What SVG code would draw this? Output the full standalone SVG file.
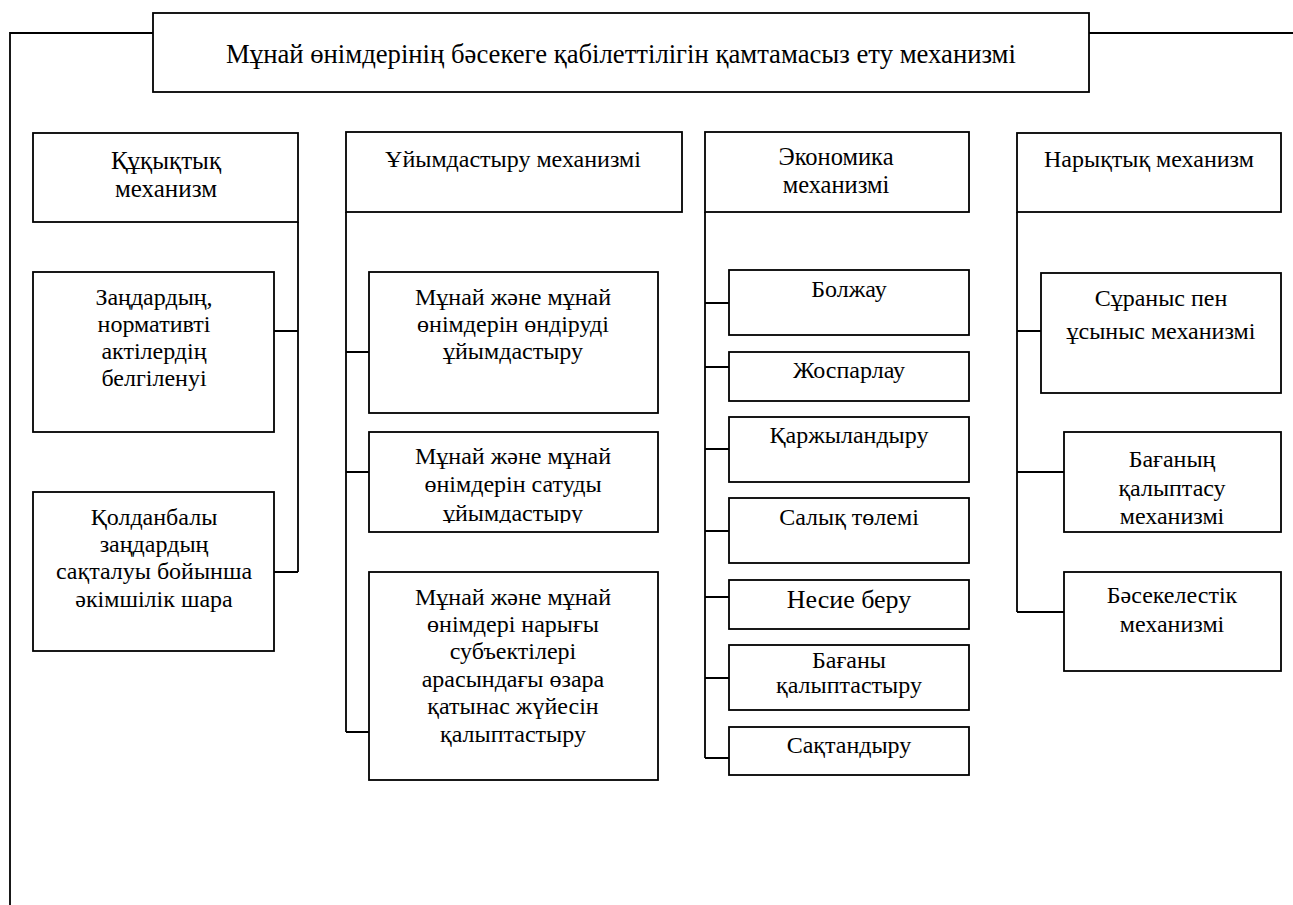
<svg xmlns="http://www.w3.org/2000/svg" width="1293" height="905" viewBox="0 0 1293 905">
<style>
.b{fill:#fff;stroke:#000;stroke-width:1.8}
.l{fill:none;stroke:#000;stroke-width:1.8}
text{font-family:"Liberation Serif","Times New Roman",serif;font-size:24px;fill:#000;text-anchor:middle}
.t{font-size:26.7px}
</style>
<defs>
<clipPath id="clipc2b"><rect x="369" y="432" width="289" height="91"/></clipPath>
</defs>
<rect width="1293" height="905" fill="#fff"/>
<g id="connectors">
<path class="l" d="M153 33H10V905M1089 33H1293"/>
<path class="l" d="M298 222V572M274 331H298M274 572H298"/>
<path class="l" d="M346 212V732M346 352H369M346 472H369M346 732H369"/>
<path class="l" d="M705 212V758M705 303H729M705 367H729M705 449H729M705 531H729M705 597H729M705 678H729M705 758H729"/>
<path class="l" d="M1017 212V612M1017 331H1041M1017 472H1064M1017 612H1064"/>
</g>
<g id="title"><rect class="b" x="153" y="13" width="936" height="79"/><text class="t" x="621" y="63">Мұнай өнімдерінің бәсекеге қабілеттілігін қамтамасыз ету механизмі</text></g>
<g id="h1"><rect class="b" x="33" y="133" width="265" height="89"/><text x="166" y="169" style="font-size:25px">Құқықтық</text><text x="166" y="197" style="font-size:25px">механизм</text></g>
<g id="h2"><rect class="b" x="346" y="132" width="336" height="80"/><text x="513" y="167">Ұйымдастыру механизмі</text></g>
<g id="h3"><rect class="b" x="705" y="132" width="264" height="80"/><text x="836" y="165" style="font-size:24.5px">Экономика</text><text x="836" y="193" style="font-size:24.5px">механизмі</text></g>
<g id="h4"><rect class="b" x="1017" y="133" width="264" height="79"/><text x="1149" y="167">Нарықтық механизм</text></g>
<g id="c1a"><rect class="b" x="33" y="272" width="241" height="160"/><text x="154" y="305">Заңдардың,</text><text x="154" y="332">нормативті</text><text x="154" y="359">актілердің</text><text x="154" y="386">белгіленуі</text></g>
<g id="c1b"><rect class="b" x="33" y="492" width="241" height="159"/><text x="154" y="525">Қолданбалы</text><text x="154" y="552">заңдардың</text><text x="154" y="579">сақталуы бойынша</text><text x="154" y="607">әкімшілік шара</text></g>
<g id="c2a"><rect class="b" x="369" y="272" width="289" height="141"/><text x="513" y="305">Мұнай және мұнай</text><text x="513" y="332">өнімдерін өндіруді</text><text x="513" y="359">ұйымдастыру</text></g>
<g id="c2b"><rect class="b" x="369" y="432" width="289" height="100"/><g clip-path="url(#clipc2b)"><text x="513" y="464">Мұнай және мұнай</text><text x="513" y="492">өнімдерін сатуды</text><text x="513" y="521">ұйымдастыру</text></g></g>
<g id="c2c"><rect class="b" x="369" y="572" width="289" height="208"/><text x="513" y="605">Мұнай және мұнай</text><text x="513" y="632">өнімдері нарығы</text><text x="513" y="659">субъектілері</text><text x="513" y="687">арасындағы өзара</text><text x="513" y="714">қатынас жүйесін</text><text x="513" y="742">қалыптастыру</text></g>
<g id="c3a"><rect class="b" x="729" y="270" width="240" height="65"/><text x="849" y="297">Болжау</text></g>
<g id="c3b"><rect class="b" x="729" y="352" width="240" height="49"/><text x="849" y="378">Жоспарлау</text></g>
<g id="c3c"><rect class="b" x="729" y="417" width="240" height="65"/><text x="849" y="443">Қаржыландыру</text></g>
<g id="c3d"><rect class="b" x="729" y="498" width="240" height="65"/><text x="849" y="525">Салық төлемі</text></g>
<g id="c3e"><rect class="b" x="729" y="580" width="240" height="49"/><text x="849" y="608" style="font-size:26px">Несие беру</text></g>
<g id="c3f"><rect class="b" x="729" y="645" width="240" height="65"/><text x="849" y="668">Бағаны</text><text x="849" y="693">қалыптастыру</text></g>
<g id="c3g"><rect class="b" x="729" y="727" width="240" height="48"/><text x="849" y="753">Сақтандыру</text></g>
<g id="c4a"><rect class="b" x="1041" y="273" width="240" height="120"/><text x="1161" y="306">Сұраныс пен</text><text x="1161" y="339">ұсыныс механизмі</text></g>
<g id="c4b"><rect class="b" x="1064" y="432" width="217" height="100"/><text x="1172" y="467">Бағаның</text><text x="1172" y="496">қалыптасу</text><text x="1172" y="524">механизмі</text></g>
<g id="c4c"><rect class="b" x="1064" y="572" width="217" height="99"/><text x="1172" y="603">Бәсекелестік</text><text x="1172" y="632">механизмі</text></g>
</svg>
